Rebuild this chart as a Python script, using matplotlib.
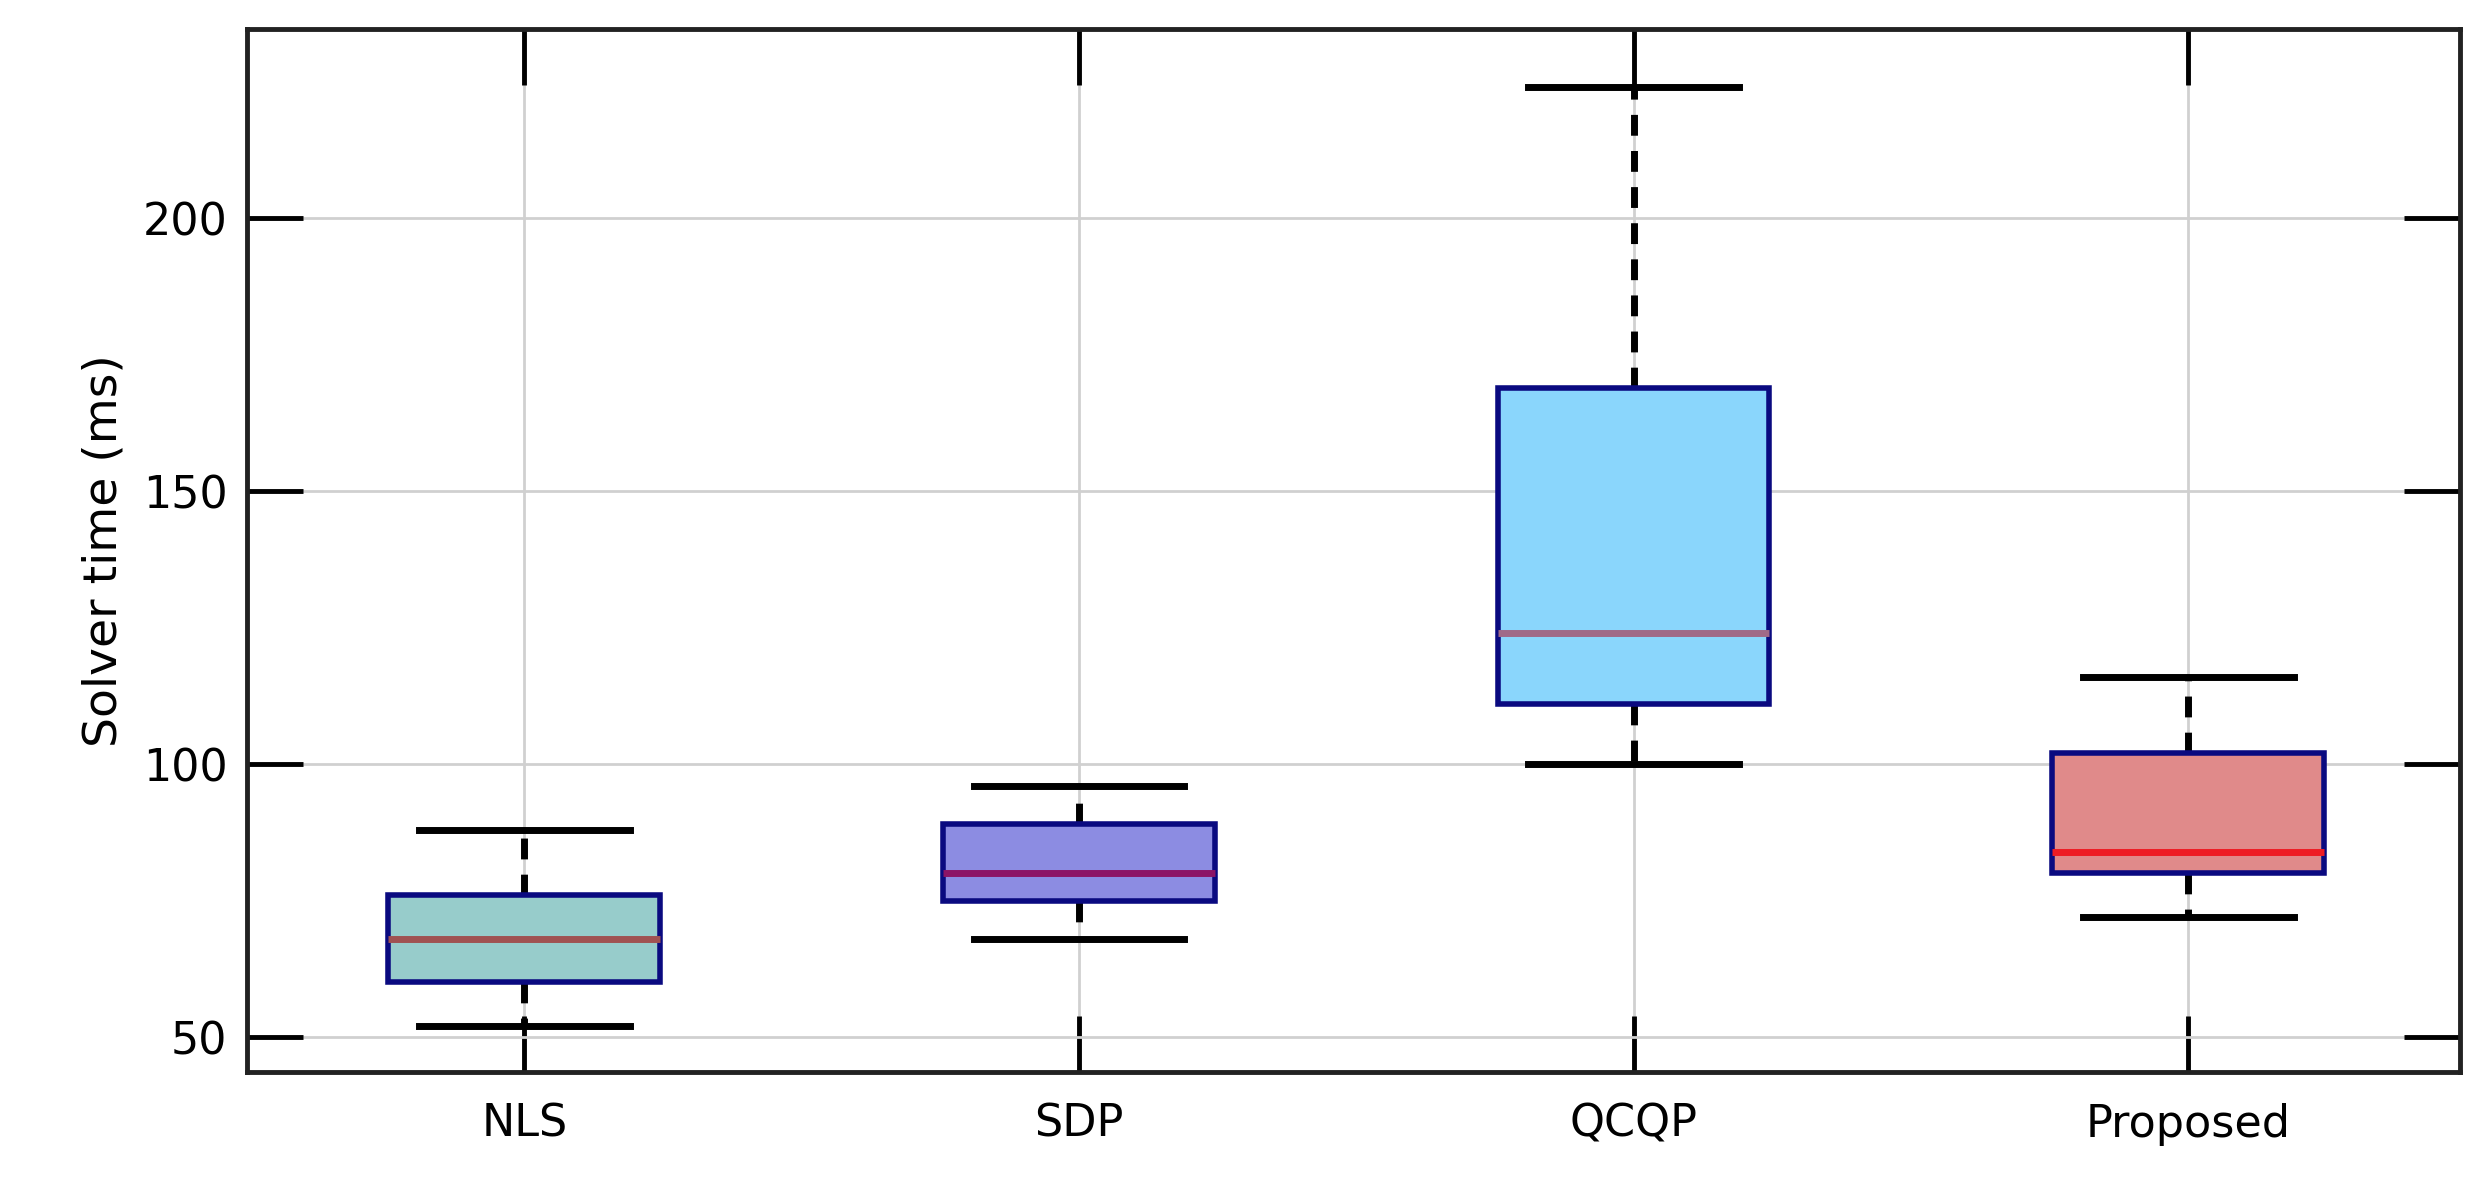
import matplotlib
matplotlib.use("Agg")
import matplotlib.pyplot as plt

categories = ["NLS", "SDP", "QCQP", "Proposed"]
whislo = [52, 68, 100, 72]
q1 = [60, 75, 111, 80]
med = [68, 80, 124, 84]
q3 = [76, 89, 169, 102]
whishi = [88, 96, 224, 116]
faces = ["#97cccb", "#8c8ce2", "#8ad6fc", "#e08a8a"]
medcols = ["#a05252", "#8c1466", "#a06a88", "#ee1c24"]

fig = plt.figure(figsize=(24.84, 11.96), dpi=100)
ax = fig.add_axes([247/2484, 1-1072/1196, (2460-247)/2484, (1072-29)/1196])
stats = [dict(label=c, whislo=a, q1=b, med=m, q3=d, whishi=e, fliers=[])
         for c, a, b, m, d, e in zip(categories, whislo, q1, med, q3, whishi)]
bp = ax.bxp(stats, positions=[1, 2, 3, 4], widths=0.49, patch_artist=True,
            showfliers=False,
            whiskerprops=dict(color="black", lw=5, linestyle=(0, (3, 2.2))),
            capprops=dict(color="black", lw=5), capwidths=0.38)
for p, f in zip(bp["boxes"], faces):
    p.set_facecolor(f); p.set_edgecolor("#0a0a80"); p.set_linewidth(4)
    p.set_zorder(3)
for l, c in zip(bp["medians"], medcols):
    l.set_color(c); l.set_linewidth(5); l.set_zorder(4)

ax.set_xlim(0.5, 4.49)
ax.set_ylim(43.6, 234.7)
ax.set_yticks([50, 100, 150, 200])
ax.grid(True, color="#d0d0d0", lw=2)
ax.set_axisbelow(True)
ax.tick_params(direction="in", length=40, width=3.5, top=True, right=True,
               labelsize=32, colors="black", pad=14)
ax.tick_params(axis="x", pad=22)
for s in ax.spines.values():
    s.set_linewidth(3.5); s.set_color("#222222")
ax.set_ylabel("Solver time (ms)", fontsize=34, labelpad=12)
fig.savefig("out.png", dpi=100)
